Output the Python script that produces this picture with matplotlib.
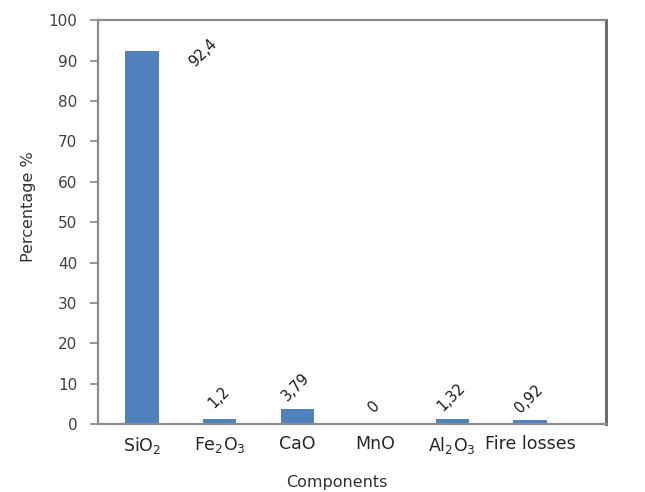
import matplotlib
matplotlib.use("Agg")
import matplotlib.pyplot as plt

components = [r"SiO$_2$", r"Fe$_2$O$_3$", "CaO", "MnO", r"Al$_2$O$_3$", "Fire losses"]
percentages = [92.4, 1.2, 3.79, 0.0, 1.32, 0.92]
value_labels = ["92,4", "1,2", "3,79", "0", "1,32", "0,92"]
y_ticks = [0, 10, 20, 30, 40, 50, 60, 70, 80, 90, 100]

plt.rcParams["font.family"] = ["DejaVu Sans"]
plt.rcParams["mathtext.fontset"] = "dejavusans"

fig = plt.figure(figsize=(6.45, 4.92), dpi=100)
ax = fig.add_axes([0.152, 0.138, 0.7875, 0.821])

x = list(range(len(components)))
ax.bar(x, percentages, width=0.43, color="#4F81BD", zorder=2)

ax.set_xlim(-0.567, 5.98)
ax.set_ylim(0, 100)
ax.set_yticks(y_ticks)
ax.set_xticks(x)
ax.set_xticklabels(components, fontsize=12.5, color="#262626")
ax.tick_params(axis="x", length=0, pad=8)
ax.tick_params(axis="y", length=6, width=1.2, color="#888888", pad=9,
               labelsize=11, labelcolor="#404040")

for side in ["left", "bottom", "top", "right"]:
    ax.spines[side].set_color("#8c8c8c")
    ax.spines[side].set_linewidth(1.6)
ax.spines["right"].set_color("#6e6e6e")
ax.spines["right"].set_linewidth(2.2)

for i, (v, lab) in enumerate(zip(percentages, value_labels)):
    if i == 0:
        off = (61, -2)
    else:
        off = (-1, 22 if v > 0 else 18)
    ax.annotate(lab, xy=(i, v), xytext=off, textcoords="offset pixels",
                ha="center", va="center", rotation=45, fontsize=10.5,
                color="#1a1a1a")

ax.set_ylabel("Percentage %", fontsize=11.5, color="#333333")
ax.yaxis.set_label_coords(-0.122, 0.538)
ax.set_xlabel("Components", fontsize=11.5, color="#333333")
ax.xaxis.set_label_coords(0.47, -0.127)

fig.savefig("out.png", dpi=100)
